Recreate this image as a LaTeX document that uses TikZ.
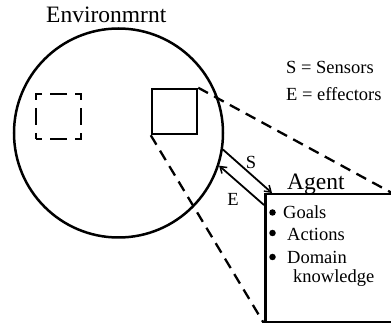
\documentclass[tikz,border=0pt]{standalone}
\usepackage{fontspec}
\setmainfont{Liberation Serif}
\usetikzlibrary{arrows.meta}
\tikzset{
  big/.style={font=\fontsize{23.5}{28}\selectfont, inner sep=0pt},
  txt/.style={font=\fontsize{18.5}{22}\selectfont, inner sep=0pt},
  thick line/.style={line width=2.5pt},
  dashline/.style={line width=2.3pt, dash pattern=on 11pt off 7pt},
  arr/.style={line width=1.8pt, -{Straight Barb[length=6pt,width=8pt,line width=1.5pt]}},
  bul/.style={circle, fill=black, inner sep=0pt, minimum size=6.5pt}
}
\begin{document}
\begin{tikzpicture}[x=1pt,y=-1pt]
\useasboundingbox (0,0) rectangle (391,323);
\clip (0,0) rectangle (391,323);
% environment
\node[circle, draw, thick line, minimum size=209pt, inner sep=0pt] (env) at (118.5,133) {};
\node[big, anchor=base west] (envlbl) at (46,23) {Environmrnt};
% squares
\node[draw, line width=2.3pt, minimum size=45pt, inner sep=0pt, dash pattern=on 12pt off 8pt on 17pt off 8pt, dash phase=6pt] (ds) at (58.5,116.5) {};
\node[draw, thick line, minimum size=45pt, inner sep=0pt] (ss) at (174.5,111.5) {};
% agent box
\node[draw, thick line, anchor=north west, minimum width=140pt, minimum height=128pt, inner sep=0pt] (agent) at (264,193) {};
\coordinate (agtr) at (392,193);
\node[big, anchor=base west] (agentlbl) at (287,190) {Agent};
% legend
\node[txt, anchor=base west] (leg1) at (286,74) {S = Sensors};
\node[txt, anchor=base west] (leg2) at (286,101) {E = effectors};
% bullets
\node[bul] (b1) at (272.5,212.5) {};
\node[bul] (b2) at (272.5,233) {};
\node[bul] (b3) at (272.5,257) {};
\node[txt, anchor=base west] (t1) at (283,219) {Goals};
\node[txt, anchor=base west] (t2) at (287,241) {Actions};
\node[txt, anchor=base west] (t3) at (287,264) {Domain};
\node[txt, anchor=base west] (t4) at (293,283) {knowledge};
% zoom lines
\draw[dashline] (ss.north east) -- (agtr);
\draw[dashline] (ss.south west) -- (agent.south west);
% arrows
\draw[arr] (env.-9) -- ([xshift=8pt]agent.north west);
\draw[arr] ([yshift=-12pt]agent.north west) -- (env.-18);
\node[txt] (slbl) at (251,162) {S};
\node[txt] (elbl) at (233,199) {E};
\end{tikzpicture}
\end{document}
